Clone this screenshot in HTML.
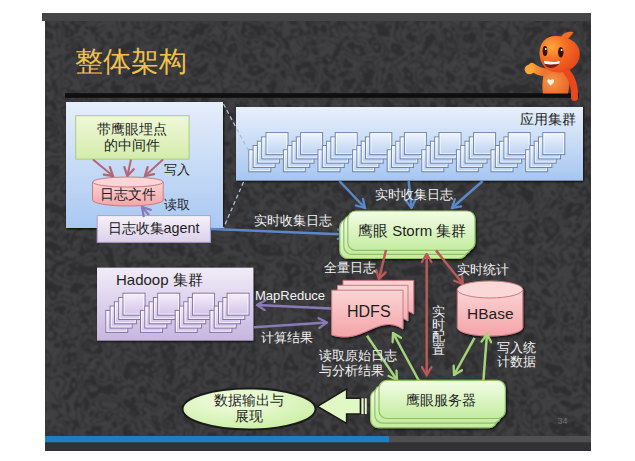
<!DOCTYPE html>
<html><head><meta charset="utf-8">
<style>
html,body{margin:0;padding:0;background:#fff;}
body{width:635px;height:461px;overflow:hidden;position:relative;font-family:"Liberation Sans",sans-serif;}
.t{position:absolute;white-space:nowrap;line-height:1;font-weight:500;}
.w{color:#f2f2f2;font-size:12.5px;}
.d{color:#1e1e1e;}
</style></head><body>
<svg width="635" height="461" viewBox="0 0 635 461" style="position:absolute;left:0;top:0">
<defs>
<linearGradient id="gblue" x1="0" y1="0" x2="0" y2="1"><stop offset="0" stop-color="#e6eefa"/><stop offset="1" stop-color="#a9c8f2"/></linearGradient>
<linearGradient id="gblue2" x1="0" y1="0" x2="0" y2="1"><stop offset="0" stop-color="#e8f0fb"/><stop offset="1" stop-color="#a6c6f0"/></linearGradient>
<linearGradient id="gsq" x1="0" y1="0" x2="0" y2="1"><stop offset="0" stop-color="#eef4fd"/><stop offset="1" stop-color="#bcd2f2"/></linearGradient>
<linearGradient id="gpurp" x1="0" y1="0" x2="0" y2="1"><stop offset="0" stop-color="#f1ecf8"/><stop offset="1" stop-color="#c6b6e0"/></linearGradient>
<linearGradient id="gsqp" x1="0" y1="0" x2="0" y2="1"><stop offset="0" stop-color="#f4effa"/><stop offset="1" stop-color="#d2c4e8"/></linearGradient>
<linearGradient id="ggreen" x1="0" y1="0" x2="0" y2="1"><stop offset="0" stop-color="#f3fde6"/><stop offset="1" stop-color="#c4eca0"/></linearGradient>
<linearGradient id="ggreen2" x1="0" y1="0" x2="0" y2="1"><stop offset="0" stop-color="#f0f8d8"/><stop offset="1" stop-color="#d4ecac"/></linearGradient>
<filter id="sh" x="-10%" y="-10%" width="120%" height="130%"><feDropShadow dx="0.8" dy="1.2" stdDeviation="1.3" flood-color="#000" flood-opacity="0.85"/></filter>
<linearGradient id="gpink" x1="0" y1="0" x2="0" y2="1"><stop offset="0" stop-color="#fbd4d4"/><stop offset="1" stop-color="#f4a4a8"/></linearGradient>
<linearGradient id="gagent" x1="0" y1="0" x2="0" y2="1"><stop offset="0" stop-color="#f6f2fa"/><stop offset="1" stop-color="#dcd0ec"/></linearGradient>
<radialGradient id="gell" cx="0.4" cy="0.3" r="0.8"><stop offset="0" stop-color="#f4ffe4"/><stop offset="1" stop-color="#c8eca0"/></radialGradient>
<radialGradient id="ghead" cx="0.3" cy="0.3" r="0.85"><stop offset="0" stop-color="#fba83a"/><stop offset="0.45" stop-color="#f56a22"/><stop offset="1" stop-color="#e2401a"/></radialGradient><linearGradient id="garm" x1="1" y1="0" x2="0" y2="0"><stop offset="0" stop-color="#f06628"/><stop offset="1" stop-color="#f9a038"/></linearGradient><radialGradient id="gbody" cx="0.35" cy="0.5" r="0.8"><stop offset="0" stop-color="#f59a48"/><stop offset="1" stop-color="#ea5a22"/></radialGradient><linearGradient id="gor" x1="0" y1="0" x2="1" y2="1"><stop offset="0" stop-color="#ff9a3a"/><stop offset="1" stop-color="#e84818"/></linearGradient>
<marker id="mb" viewBox="0 0 12 12" refX="10.5" refY="6" markerWidth="12" markerHeight="12" markerUnits="userSpaceOnUse" orient="auto-start-reverse"><path d="M2.5,1.2 L10.5,6 L2.5,10.8" fill="none" stroke="#5a88c8" stroke-width="2.3" stroke-linejoin="miter" stroke-linecap="round"/></marker>
<marker id="mr" viewBox="0 0 12 12" refX="10.5" refY="6" markerWidth="12" markerHeight="12" markerUnits="userSpaceOnUse" orient="auto-start-reverse"><path d="M2.5,1.2 L10.5,6 L2.5,10.8" fill="none" stroke="#b85a5a" stroke-width="2.3" stroke-linejoin="miter" stroke-linecap="round"/></marker>
<marker id="mp" viewBox="0 0 12 12" refX="10.5" refY="6" markerWidth="12" markerHeight="12" markerUnits="userSpaceOnUse" orient="auto-start-reverse"><path d="M2.5,1.2 L10.5,6 L2.5,10.8" fill="none" stroke="#8a7ab8" stroke-width="2.3" stroke-linejoin="miter" stroke-linecap="round"/></marker>
<marker id="mg" viewBox="0 0 12 12" refX="10.5" refY="6" markerWidth="12" markerHeight="12" markerUnits="userSpaceOnUse" orient="auto-start-reverse"><path d="M2.5,1.2 L10.5,6 L2.5,10.8" fill="none" stroke="#a4d47a" stroke-width="2.3" stroke-linejoin="miter" stroke-linecap="round"/></marker>
<marker id="mpk" viewBox="0 0 12 12" refX="10.5" refY="6" markerWidth="12" markerHeight="12" markerUnits="userSpaceOnUse" orient="auto-start-reverse"><path d="M2.5,1.2 L10.5,6 L2.5,10.8" fill="none" stroke="#b06874" stroke-width="2.3" stroke-linejoin="miter" stroke-linecap="round"/></marker>
</defs>
<!-- slide -->
<rect x="42" y="13" width="549" height="8" fill="#454547"/>
<rect x="45" y="21" width="546" height="430" fill="#3b3b3d"/>
<filter id="tex" x="0" y="0" width="100%" height="100%" color-interpolation-filters="sRGB">
<feTurbulence type="turbulence" baseFrequency="0.05" numOctaves="2" seed="3" result="n"/>
<feColorMatrix in="n" type="matrix" values="0 0 0 0 0  0 0 0 0 0  0 0 0 0 0  1.2 0 0 0 -0.05" result="a"/>
<feComponentTransfer in="a" result="b"><feFuncA type="discrete" tableValues="0 1 0 0 1 1 0 1 0 1"/></feComponentTransfer>
<feFlood flood-color="#2e2e30" result="c"/>
<feComposite in="c" in2="b" operator="in" result="d"/>
<feFlood flood-color="#404042" result="e"/>
<feMerge result="m"><feMergeNode in="e"/><feMergeNode in="d"/></feMerge>
<feGaussianBlur in="m" stdDeviation="0.9"/>
</filter>
<rect x="45" y="21" width="546" height="415" filter="url(#tex)"/>
<rect x="45" y="436" width="344" height="6.5" fill="#1c7fc0"/>
<rect x="389" y="436" width="202" height="6.5" fill="#505052"/>
<rect x="45" y="442.5" width="546" height="8.5" fill="#323234"/>
<!-- black bar -->
<rect x="65" y="93.2" width="513.5" height="4.6" fill="#0e0e0e"/>

<!-- mascot -->
<g>
<path d="M547,72 C541,73 536,70 532,67" stroke="url(#garm)" stroke-width="8" stroke-linecap="round" fill="none"/>
<circle cx="529.5" cy="69.5" r="4.8" fill="#f9a838"/>
<path d="M545,70 C542,78 542,88 543,93.5 L568,93.5 C570,85 570,76 568,70 Z" fill="url(#gbody)"/>
<path d="M550.7,80.3 c-1.6,-2.4 -4.6,-0.6 -3,2.2 l3,3.2 l3,-3.2 c1.6,-2.8 -1.4,-4.6 -3,-2.2z" fill="#fff2dc"/>
<path d="M561,37.5 C562,33.5 567,31 573.5,32 C571.5,35.5 569,38.5 565,40.5 Z" fill="#f46a28"/>
<path d="M555,36 C546,36 539.5,43 539.5,53 C539.5,64 547,72.5 558,72.5 C571,72.5 579.8,64 579.8,54 C579.8,43 569,36 555,36 Z" fill="url(#ghead)"/>
<ellipse cx="545" cy="51" rx="2.4" ry="5" fill="#3a1006"/>
<ellipse cx="560.8" cy="52.2" rx="2.7" ry="5.2" fill="#3a1006"/>
<circle cx="545.8" cy="49" r="0.9" fill="#fff"/>
<circle cx="561.6" cy="50" r="1" fill="#fff"/>
<path d="M543.5,60.5 C548,62 555,62.2 560.2,60.6 C559.5,65.5 555,68 551,68 C547,68 544,65 543.5,60.5 Z" fill="#7a1c10"/>
<path d="M543.8,60.6 C548,62 555,62.2 560,60.7 L559.5,63.6 C555,64.8 548,64.8 544.3,63.4 Z" fill="#fff6ea"/>
<path d="M567,72 C572,78 575,88 574.5,97.5" stroke="#e8481a" stroke-width="7" stroke-linecap="round" fill="none"/>
</g>
<!-- left big box -->
<rect x="66" y="102" width="157" height="126" fill="url(#gblue)" filter="url(#sh)"/>
<!-- app cluster box -->
<rect x="236" y="107" width="347" height="73.5" fill="url(#gblue2)" filter="url(#sh)"/>
<rect x="248.8" y="149.8" width="22" height="22" fill="url(#gsq)" stroke="#6f86aa" stroke-width="1"/><rect x="250.0" y="151.0" width="19.6" height="19.6" fill="none" stroke="#fff" stroke-opacity="0.75" stroke-width="0.9"/><rect x="253.1" y="145.5" width="22" height="22" fill="url(#gsq)" stroke="#6f86aa" stroke-width="1"/><rect x="254.3" y="146.7" width="19.6" height="19.6" fill="none" stroke="#fff" stroke-opacity="0.75" stroke-width="0.9"/><rect x="257.4" y="141.2" width="22" height="22" fill="url(#gsq)" stroke="#6f86aa" stroke-width="1"/><rect x="258.6" y="142.4" width="19.6" height="19.6" fill="none" stroke="#fff" stroke-opacity="0.75" stroke-width="0.9"/><rect x="261.7" y="136.9" width="22" height="22" fill="url(#gsq)" stroke="#6f86aa" stroke-width="1"/><rect x="262.9" y="138.1" width="19.6" height="19.6" fill="none" stroke="#fff" stroke-opacity="0.75" stroke-width="0.9"/><rect x="266.0" y="132.6" width="22" height="22" fill="url(#gsq)" stroke="#6f86aa" stroke-width="1"/><rect x="267.2" y="133.8" width="19.6" height="19.6" fill="none" stroke="#fff" stroke-opacity="0.75" stroke-width="0.9"/><rect x="283.4" y="149.8" width="22" height="22" fill="url(#gsq)" stroke="#6f86aa" stroke-width="1"/><rect x="284.6" y="151.0" width="19.6" height="19.6" fill="none" stroke="#fff" stroke-opacity="0.75" stroke-width="0.9"/><rect x="287.7" y="145.5" width="22" height="22" fill="url(#gsq)" stroke="#6f86aa" stroke-width="1"/><rect x="288.9" y="146.7" width="19.6" height="19.6" fill="none" stroke="#fff" stroke-opacity="0.75" stroke-width="0.9"/><rect x="292.0" y="141.2" width="22" height="22" fill="url(#gsq)" stroke="#6f86aa" stroke-width="1"/><rect x="293.2" y="142.4" width="19.6" height="19.6" fill="none" stroke="#fff" stroke-opacity="0.75" stroke-width="0.9"/><rect x="296.3" y="136.9" width="22" height="22" fill="url(#gsq)" stroke="#6f86aa" stroke-width="1"/><rect x="297.5" y="138.1" width="19.6" height="19.6" fill="none" stroke="#fff" stroke-opacity="0.75" stroke-width="0.9"/><rect x="300.6" y="132.6" width="22" height="22" fill="url(#gsq)" stroke="#6f86aa" stroke-width="1"/><rect x="301.8" y="133.8" width="19.6" height="19.6" fill="none" stroke="#fff" stroke-opacity="0.75" stroke-width="0.9"/><rect x="318.0" y="149.8" width="22" height="22" fill="url(#gsq)" stroke="#6f86aa" stroke-width="1"/><rect x="319.2" y="151.0" width="19.6" height="19.6" fill="none" stroke="#fff" stroke-opacity="0.75" stroke-width="0.9"/><rect x="322.3" y="145.5" width="22" height="22" fill="url(#gsq)" stroke="#6f86aa" stroke-width="1"/><rect x="323.5" y="146.7" width="19.6" height="19.6" fill="none" stroke="#fff" stroke-opacity="0.75" stroke-width="0.9"/><rect x="326.6" y="141.2" width="22" height="22" fill="url(#gsq)" stroke="#6f86aa" stroke-width="1"/><rect x="327.8" y="142.4" width="19.6" height="19.6" fill="none" stroke="#fff" stroke-opacity="0.75" stroke-width="0.9"/><rect x="330.9" y="136.9" width="22" height="22" fill="url(#gsq)" stroke="#6f86aa" stroke-width="1"/><rect x="332.1" y="138.1" width="19.6" height="19.6" fill="none" stroke="#fff" stroke-opacity="0.75" stroke-width="0.9"/><rect x="335.2" y="132.6" width="22" height="22" fill="url(#gsq)" stroke="#6f86aa" stroke-width="1"/><rect x="336.4" y="133.8" width="19.6" height="19.6" fill="none" stroke="#fff" stroke-opacity="0.75" stroke-width="0.9"/><rect x="352.6" y="149.8" width="22" height="22" fill="url(#gsq)" stroke="#6f86aa" stroke-width="1"/><rect x="353.8" y="151.0" width="19.6" height="19.6" fill="none" stroke="#fff" stroke-opacity="0.75" stroke-width="0.9"/><rect x="356.9" y="145.5" width="22" height="22" fill="url(#gsq)" stroke="#6f86aa" stroke-width="1"/><rect x="358.1" y="146.7" width="19.6" height="19.6" fill="none" stroke="#fff" stroke-opacity="0.75" stroke-width="0.9"/><rect x="361.2" y="141.2" width="22" height="22" fill="url(#gsq)" stroke="#6f86aa" stroke-width="1"/><rect x="362.4" y="142.4" width="19.6" height="19.6" fill="none" stroke="#fff" stroke-opacity="0.75" stroke-width="0.9"/><rect x="365.5" y="136.9" width="22" height="22" fill="url(#gsq)" stroke="#6f86aa" stroke-width="1"/><rect x="366.7" y="138.1" width="19.6" height="19.6" fill="none" stroke="#fff" stroke-opacity="0.75" stroke-width="0.9"/><rect x="369.8" y="132.6" width="22" height="22" fill="url(#gsq)" stroke="#6f86aa" stroke-width="1"/><rect x="371.0" y="133.8" width="19.6" height="19.6" fill="none" stroke="#fff" stroke-opacity="0.75" stroke-width="0.9"/><rect x="387.2" y="149.8" width="22" height="22" fill="url(#gsq)" stroke="#6f86aa" stroke-width="1"/><rect x="388.4" y="151.0" width="19.6" height="19.6" fill="none" stroke="#fff" stroke-opacity="0.75" stroke-width="0.9"/><rect x="391.5" y="145.5" width="22" height="22" fill="url(#gsq)" stroke="#6f86aa" stroke-width="1"/><rect x="392.7" y="146.7" width="19.6" height="19.6" fill="none" stroke="#fff" stroke-opacity="0.75" stroke-width="0.9"/><rect x="395.8" y="141.2" width="22" height="22" fill="url(#gsq)" stroke="#6f86aa" stroke-width="1"/><rect x="397.0" y="142.4" width="19.6" height="19.6" fill="none" stroke="#fff" stroke-opacity="0.75" stroke-width="0.9"/><rect x="400.1" y="136.9" width="22" height="22" fill="url(#gsq)" stroke="#6f86aa" stroke-width="1"/><rect x="401.3" y="138.1" width="19.6" height="19.6" fill="none" stroke="#fff" stroke-opacity="0.75" stroke-width="0.9"/><rect x="404.4" y="132.6" width="22" height="22" fill="url(#gsq)" stroke="#6f86aa" stroke-width="1"/><rect x="405.6" y="133.8" width="19.6" height="19.6" fill="none" stroke="#fff" stroke-opacity="0.75" stroke-width="0.9"/><rect x="421.8" y="149.8" width="22" height="22" fill="url(#gsq)" stroke="#6f86aa" stroke-width="1"/><rect x="423.0" y="151.0" width="19.6" height="19.6" fill="none" stroke="#fff" stroke-opacity="0.75" stroke-width="0.9"/><rect x="426.1" y="145.5" width="22" height="22" fill="url(#gsq)" stroke="#6f86aa" stroke-width="1"/><rect x="427.3" y="146.7" width="19.6" height="19.6" fill="none" stroke="#fff" stroke-opacity="0.75" stroke-width="0.9"/><rect x="430.4" y="141.2" width="22" height="22" fill="url(#gsq)" stroke="#6f86aa" stroke-width="1"/><rect x="431.6" y="142.4" width="19.6" height="19.6" fill="none" stroke="#fff" stroke-opacity="0.75" stroke-width="0.9"/><rect x="434.7" y="136.9" width="22" height="22" fill="url(#gsq)" stroke="#6f86aa" stroke-width="1"/><rect x="435.9" y="138.1" width="19.6" height="19.6" fill="none" stroke="#fff" stroke-opacity="0.75" stroke-width="0.9"/><rect x="439.0" y="132.6" width="22" height="22" fill="url(#gsq)" stroke="#6f86aa" stroke-width="1"/><rect x="440.2" y="133.8" width="19.6" height="19.6" fill="none" stroke="#fff" stroke-opacity="0.75" stroke-width="0.9"/><rect x="456.4" y="149.8" width="22" height="22" fill="url(#gsq)" stroke="#6f86aa" stroke-width="1"/><rect x="457.6" y="151.0" width="19.6" height="19.6" fill="none" stroke="#fff" stroke-opacity="0.75" stroke-width="0.9"/><rect x="460.7" y="145.5" width="22" height="22" fill="url(#gsq)" stroke="#6f86aa" stroke-width="1"/><rect x="461.9" y="146.7" width="19.6" height="19.6" fill="none" stroke="#fff" stroke-opacity="0.75" stroke-width="0.9"/><rect x="465.0" y="141.2" width="22" height="22" fill="url(#gsq)" stroke="#6f86aa" stroke-width="1"/><rect x="466.2" y="142.4" width="19.6" height="19.6" fill="none" stroke="#fff" stroke-opacity="0.75" stroke-width="0.9"/><rect x="469.3" y="136.9" width="22" height="22" fill="url(#gsq)" stroke="#6f86aa" stroke-width="1"/><rect x="470.5" y="138.1" width="19.6" height="19.6" fill="none" stroke="#fff" stroke-opacity="0.75" stroke-width="0.9"/><rect x="473.6" y="132.6" width="22" height="22" fill="url(#gsq)" stroke="#6f86aa" stroke-width="1"/><rect x="474.8" y="133.8" width="19.6" height="19.6" fill="none" stroke="#fff" stroke-opacity="0.75" stroke-width="0.9"/><rect x="491.0" y="149.8" width="22" height="22" fill="url(#gsq)" stroke="#6f86aa" stroke-width="1"/><rect x="492.2" y="151.0" width="19.6" height="19.6" fill="none" stroke="#fff" stroke-opacity="0.75" stroke-width="0.9"/><rect x="495.3" y="145.5" width="22" height="22" fill="url(#gsq)" stroke="#6f86aa" stroke-width="1"/><rect x="496.5" y="146.7" width="19.6" height="19.6" fill="none" stroke="#fff" stroke-opacity="0.75" stroke-width="0.9"/><rect x="499.6" y="141.2" width="22" height="22" fill="url(#gsq)" stroke="#6f86aa" stroke-width="1"/><rect x="500.8" y="142.4" width="19.6" height="19.6" fill="none" stroke="#fff" stroke-opacity="0.75" stroke-width="0.9"/><rect x="503.9" y="136.9" width="22" height="22" fill="url(#gsq)" stroke="#6f86aa" stroke-width="1"/><rect x="505.1" y="138.1" width="19.6" height="19.6" fill="none" stroke="#fff" stroke-opacity="0.75" stroke-width="0.9"/><rect x="508.2" y="132.6" width="22" height="22" fill="url(#gsq)" stroke="#6f86aa" stroke-width="1"/><rect x="509.4" y="133.8" width="19.6" height="19.6" fill="none" stroke="#fff" stroke-opacity="0.75" stroke-width="0.9"/><rect x="525.6" y="149.8" width="22" height="22" fill="url(#gsq)" stroke="#6f86aa" stroke-width="1"/><rect x="526.8" y="151.0" width="19.6" height="19.6" fill="none" stroke="#fff" stroke-opacity="0.75" stroke-width="0.9"/><rect x="529.9" y="145.5" width="22" height="22" fill="url(#gsq)" stroke="#6f86aa" stroke-width="1"/><rect x="531.1" y="146.7" width="19.6" height="19.6" fill="none" stroke="#fff" stroke-opacity="0.75" stroke-width="0.9"/><rect x="534.2" y="141.2" width="22" height="22" fill="url(#gsq)" stroke="#6f86aa" stroke-width="1"/><rect x="535.4" y="142.4" width="19.6" height="19.6" fill="none" stroke="#fff" stroke-opacity="0.75" stroke-width="0.9"/><rect x="538.5" y="136.9" width="22" height="22" fill="url(#gsq)" stroke="#6f86aa" stroke-width="1"/><rect x="539.7" y="138.1" width="19.6" height="19.6" fill="none" stroke="#fff" stroke-opacity="0.75" stroke-width="0.9"/><rect x="542.8" y="132.6" width="22" height="22" fill="url(#gsq)" stroke="#6f86aa" stroke-width="1"/><rect x="544.0" y="133.8" width="19.6" height="19.6" fill="none" stroke="#fff" stroke-opacity="0.75" stroke-width="0.9"/>
<!-- dashed zoom lines -->
<line x1="223.5" y1="104" x2="248" y2="150" stroke="#a8c0dc" stroke-width="1.3" stroke-dasharray="4,3"/>
<line x1="243.5" y1="182" x2="223.5" y2="228" stroke="#a8c0dc" stroke-width="1.3" stroke-dasharray="4,3"/>

<!-- middleware green box -->
<rect x="75.7" y="115.7" width="113.4" height="43.4" fill="url(#ggreen2)" stroke="#a8cc80" stroke-width="1"/>
<!-- arrows to cylinder -->
<g stroke="#b06874" stroke-width="2" marker-end="url(#mpk)">
<line x1="93" y1="159.5" x2="113" y2="176"/>
<line x1="131" y1="159.5" x2="127.3" y2="176"/>
<line x1="163" y1="159.5" x2="145" y2="176"/>
</g>
<!-- cylinder -->
<path d="M92.5,182 L92.5,200 A35.3,6 0 0 0 163.2,200 L163.2,182" fill="url(#gpink)" stroke="#c87c84" stroke-width="1"/>
<ellipse cx="127.9" cy="182" rx="35.3" ry="5" fill="#fad6d6" stroke="#c87c84" stroke-width="1"/>
<!-- agent box -->
<rect x="97.2" y="215.6" width="113.2" height="26.7" fill="url(#gagent)" stroke="#b0a0c8" stroke-width="1"/>
<line x1="149" y1="215" x2="142" y2="207" stroke="#8a7ab8" stroke-width="2.2" marker-end="url(#mp)"/>

<!-- blue arrows -->
<g stroke="#5a88c8" stroke-width="2.5" marker-end="url(#mb)">
<line x1="339.4" y1="181" x2="365" y2="208"/>
<line x1="408.7" y1="181" x2="411.5" y2="208"/>
<line x1="482.7" y1="181" x2="452" y2="208"/>
<line x1="210.4" y1="229" x2="346" y2="234.5"/>
</g>

<!-- storm -->
<g filter="url(#sh)"><rect x="339.8" y="219.2" width="127.2" height="39.3" rx="8" fill="url(#ggreen)" stroke="#90c068" stroke-width="1.2"/><rect x="343.8" y="215.1" width="127.2" height="39.3" rx="8" fill="url(#ggreen)" stroke="#90c068" stroke-width="1.2"/><rect x="347.8" y="211.0" width="127.2" height="39.3" rx="8" fill="url(#ggreen)" stroke="#90c068" stroke-width="1.2"/></g>

<!-- hadoop -->
<rect x="97" y="267.7" width="156.3" height="72.8" fill="url(#gpurp)" filter="url(#sh)"/>
<rect x="105.8" y="310.4" width="22" height="22" fill="url(#gsqp)" stroke="#8474a4" stroke-width="1"/><rect x="107.0" y="311.6" width="19.6" height="19.6" fill="none" stroke="#fff" stroke-opacity="0.75" stroke-width="0.9"/><rect x="110.1" y="306.1" width="22" height="22" fill="url(#gsqp)" stroke="#8474a4" stroke-width="1"/><rect x="111.3" y="307.3" width="19.6" height="19.6" fill="none" stroke="#fff" stroke-opacity="0.75" stroke-width="0.9"/><rect x="114.4" y="301.8" width="22" height="22" fill="url(#gsqp)" stroke="#8474a4" stroke-width="1"/><rect x="115.6" y="303.0" width="19.6" height="19.6" fill="none" stroke="#fff" stroke-opacity="0.75" stroke-width="0.9"/><rect x="118.7" y="297.5" width="22" height="22" fill="url(#gsqp)" stroke="#8474a4" stroke-width="1"/><rect x="119.9" y="298.7" width="19.6" height="19.6" fill="none" stroke="#fff" stroke-opacity="0.75" stroke-width="0.9"/><rect x="123.0" y="293.2" width="22" height="22" fill="url(#gsqp)" stroke="#8474a4" stroke-width="1"/><rect x="124.2" y="294.4" width="19.6" height="19.6" fill="none" stroke="#fff" stroke-opacity="0.75" stroke-width="0.9"/><rect x="140.5" y="310.4" width="22" height="22" fill="url(#gsqp)" stroke="#8474a4" stroke-width="1"/><rect x="141.7" y="311.6" width="19.6" height="19.6" fill="none" stroke="#fff" stroke-opacity="0.75" stroke-width="0.9"/><rect x="144.8" y="306.1" width="22" height="22" fill="url(#gsqp)" stroke="#8474a4" stroke-width="1"/><rect x="146.0" y="307.3" width="19.6" height="19.6" fill="none" stroke="#fff" stroke-opacity="0.75" stroke-width="0.9"/><rect x="149.1" y="301.8" width="22" height="22" fill="url(#gsqp)" stroke="#8474a4" stroke-width="1"/><rect x="150.3" y="303.0" width="19.6" height="19.6" fill="none" stroke="#fff" stroke-opacity="0.75" stroke-width="0.9"/><rect x="153.4" y="297.5" width="22" height="22" fill="url(#gsqp)" stroke="#8474a4" stroke-width="1"/><rect x="154.6" y="298.7" width="19.6" height="19.6" fill="none" stroke="#fff" stroke-opacity="0.75" stroke-width="0.9"/><rect x="157.7" y="293.2" width="22" height="22" fill="url(#gsqp)" stroke="#8474a4" stroke-width="1"/><rect x="158.9" y="294.4" width="19.6" height="19.6" fill="none" stroke="#fff" stroke-opacity="0.75" stroke-width="0.9"/><rect x="175.2" y="310.4" width="22" height="22" fill="url(#gsqp)" stroke="#8474a4" stroke-width="1"/><rect x="176.4" y="311.6" width="19.6" height="19.6" fill="none" stroke="#fff" stroke-opacity="0.75" stroke-width="0.9"/><rect x="179.5" y="306.1" width="22" height="22" fill="url(#gsqp)" stroke="#8474a4" stroke-width="1"/><rect x="180.7" y="307.3" width="19.6" height="19.6" fill="none" stroke="#fff" stroke-opacity="0.75" stroke-width="0.9"/><rect x="183.8" y="301.8" width="22" height="22" fill="url(#gsqp)" stroke="#8474a4" stroke-width="1"/><rect x="185.0" y="303.0" width="19.6" height="19.6" fill="none" stroke="#fff" stroke-opacity="0.75" stroke-width="0.9"/><rect x="188.1" y="297.5" width="22" height="22" fill="url(#gsqp)" stroke="#8474a4" stroke-width="1"/><rect x="189.3" y="298.7" width="19.6" height="19.6" fill="none" stroke="#fff" stroke-opacity="0.75" stroke-width="0.9"/><rect x="192.4" y="293.2" width="22" height="22" fill="url(#gsqp)" stroke="#8474a4" stroke-width="1"/><rect x="193.6" y="294.4" width="19.6" height="19.6" fill="none" stroke="#fff" stroke-opacity="0.75" stroke-width="0.9"/><rect x="209.9" y="310.4" width="22" height="22" fill="url(#gsqp)" stroke="#8474a4" stroke-width="1"/><rect x="211.1" y="311.6" width="19.6" height="19.6" fill="none" stroke="#fff" stroke-opacity="0.75" stroke-width="0.9"/><rect x="214.2" y="306.1" width="22" height="22" fill="url(#gsqp)" stroke="#8474a4" stroke-width="1"/><rect x="215.4" y="307.3" width="19.6" height="19.6" fill="none" stroke="#fff" stroke-opacity="0.75" stroke-width="0.9"/><rect x="218.5" y="301.8" width="22" height="22" fill="url(#gsqp)" stroke="#8474a4" stroke-width="1"/><rect x="219.7" y="303.0" width="19.6" height="19.6" fill="none" stroke="#fff" stroke-opacity="0.75" stroke-width="0.9"/><rect x="222.8" y="297.5" width="22" height="22" fill="url(#gsqp)" stroke="#8474a4" stroke-width="1"/><rect x="224.0" y="298.7" width="19.6" height="19.6" fill="none" stroke="#fff" stroke-opacity="0.75" stroke-width="0.9"/><rect x="227.1" y="293.2" width="22" height="22" fill="url(#gsqp)" stroke="#8474a4" stroke-width="1"/><rect x="228.3" y="294.4" width="19.6" height="19.6" fill="none" stroke="#fff" stroke-opacity="0.75" stroke-width="0.9"/>

<!-- purple arrows -->
<g stroke="#8a7ab8" stroke-width="2.5" marker-end="url(#mp)">
<line x1="331.7" y1="308.4" x2="257" y2="305"/>
<line x1="253.8" y1="327.3" x2="327" y2="322.6"/>
</g>

<!-- red arrows -->
<g stroke="#b85a5a" stroke-width="2.5" marker-end="url(#mr)">
<line x1="386" y1="250" x2="379" y2="279"/>
<line x1="436" y1="250.4" x2="463" y2="284"/>
<line x1="426.7" y1="254" x2="426.7" y2="375" marker-start="url(#mr)"/>
</g>

<!-- HDFS -->
<g filter="url(#sh)"><path d="M343,280.4 L413.7,280.4 L413.7,314 C388.955,298 374.815,330 343,320 Z" fill="url(#gpink)" stroke="#c87c84" stroke-width="1"/><path d="M337.5,285.3 L408,285.3 L408,321 C383.325,305 369.225,337 337.5,327 Z" fill="url(#gpink)" stroke="#c87c84" stroke-width="1"/><path d="M331.7,290.2 L403,290.2 L403,329 C378.045,313 363.78499999999997,345 331.7,335 Z" fill="url(#gpink)" stroke="#c87c84" stroke-width="1"/></g>
<!-- HBase -->
<g filter="url(#sh)"><path d="M457.3,289.5 L457.3,327.5 A32.75,8.5 0 0 0 522.8,327.5 L522.8,289.5" fill="url(#gpink)" stroke="#c87c84" stroke-width="1"/>
<ellipse cx="490" cy="289.5" rx="32.75" ry="8.5" fill="#fbd8d8" stroke="#c87c84" stroke-width="1"/></g>

<!-- green arrows -->
<g stroke="#a4d47a" stroke-width="2.5" marker-end="url(#mg)">
<line x1="367" y1="335.7" x2="397" y2="380"/>
<line x1="419" y1="381" x2="393" y2="333"/>
<line x1="474.5" y1="337.8" x2="454" y2="375"/>
<line x1="483.4" y1="380.6" x2="487" y2="334"/>
</g>

<!-- server -->
<g filter="url(#sh)"><rect x="370.6" y="389.6" width="126.3" height="38.1" rx="8" fill="url(#ggreen)" stroke="#90c068" stroke-width="1.2"/><rect x="374.8" y="385.0" width="126.3" height="38.1" rx="8" fill="url(#ggreen)" stroke="#90c068" stroke-width="1.2"/><rect x="379.0" y="380.4" width="126.3" height="38.1" rx="8" fill="url(#ggreen)" stroke="#90c068" stroke-width="1.2"/></g>

<!-- ellipse -->
<ellipse cx="249" cy="409" rx="66.5" ry="20.6" fill="url(#gell)" stroke="#1a1a1a" stroke-width="2"/>
<!-- block arrow -->
<path d="M317.6,406.4 L346.6,388.8 L346.6,398.3 L360.4,398.3 L360.4,414 L346.6,414 L346.6,423.5 Z" fill="#e2f8c4" stroke="#1a1a1a" stroke-width="1.5"/>
<rect x="361.4" y="398.3" width="2.2" height="15.7" fill="#e2f8c4"/>
<rect x="364.8" y="398.3" width="2" height="15.7" fill="#e2f8c4"/>
</svg>

<div class="t" style="left:75px;top:47.5px;font-size:28px;color:#eec24c;font-weight:300;">整体架构</div>

<div class="t d" style="left:97px;top:122px;font-size:14.2px;line-height:15.5px;text-align:center;width:70px;">带鹰眼埋点<br>的中间件</div>
<div class="t d" style="left:99.5px;top:187px;font-size:14.4px;">日志文件</div>
<div class="t d" style="left:164px;top:163px;font-size:13px;">写入</div>
<div class="t d" style="left:164px;top:198px;font-size:13px;">读取</div>
<div class="t d" style="left:107.5px;top:221px;font-size:14.4px;">日志收集agent</div>
<div class="t d" style="left:520px;top:111.5px;font-size:14px;">应用集群</div>
<div class="t w" style="left:375px;top:188px;font-size:13px;">实时收集日志</div>
<div class="t w" style="left:253.5px;top:214px;font-size:13px;">实时收集日志</div>
<div class="t d" style="left:358px;top:223px;font-size:15px;">鹰眼 Storm 集群</div>
<div class="t d" style="left:116px;top:272px;font-size:15px;">Hadoop 集群</div>
<div class="t w" style="left:255px;top:289px;font-size:13px;">MapReduce</div>
<div class="t w" style="left:261px;top:332px;">计算结果</div>
<div class="t w" style="left:324px;top:262px;">全量日志</div>
<div class="t w" style="left:457px;top:263px;font-size:13px;">实时统计</div>
<div class="t d" style="left:347px;top:304px;font-size:16px;">HDFS</div>
<div class="t d" style="left:467px;top:305.5px;font-size:15.5px;">HBase</div>
<div class="t w" style="left:432px;top:306px;width:13px;line-height:12.6px;white-space:normal;">实时配置</div>
<div class="t w" style="left:497px;top:341px;line-height:14px;">写入统<br>计数据</div>
<div class="t w" style="left:319px;top:349px;line-height:14.5px;">读取原始日志<br>与分析结果</div>
<div class="t d" style="left:405.5px;top:392.5px;font-size:14px;">鹰眼服务器</div>
<div class="t d" style="left:214px;top:392px;font-size:14px;line-height:16px;text-align:center;width:70px;">数据输出与<br>展现</div>
<div class="t" style="left:557.5px;top:416.5px;font-size:9px;color:#707070;">34</div>
</body></html>
